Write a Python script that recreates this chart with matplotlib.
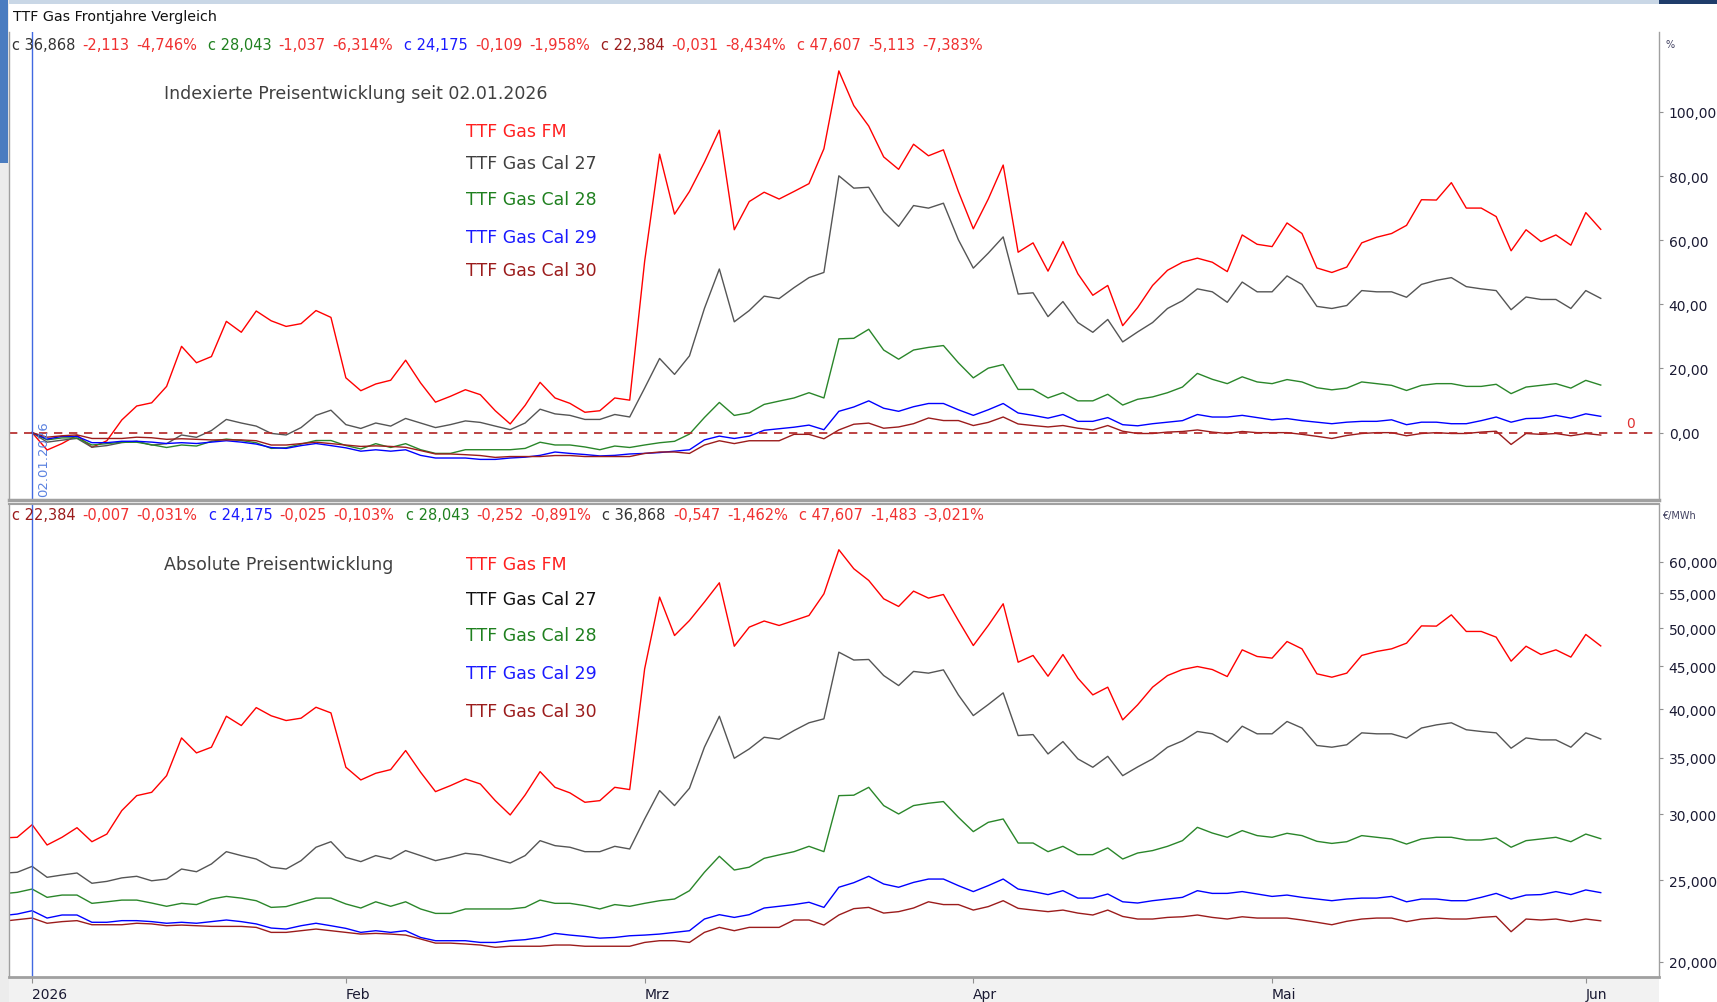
import numpy as np
import pandas as pd
import matplotlib
matplotlib.use("Agg")
import matplotlib.pyplot as plt
from matplotlib.patches import Rectangle
from matplotlib.ticker import FixedLocator, FuncFormatter, NullLocator

# trading days Dec 30 2025 .. Jun 2 2026 (exchange holidays removed)
holidays = ["2026-01-01", "2026-04-03", "2026-04-06"]
base_day = "2026-01-02"
month_names = {1: "2026", 2: "Feb", 3: "Mrz", 4: "Apr", 5: "Mai", 6: "Jun"}

# settlement prices in EUR/MWh
fm = [28.10, 28.15, 29.14, 27.56, 28.15, 28.90, 27.81, 28.40, 30.29, 31.56,
      31.85, 33.34, 36.98, 35.49, 36.05, 39.25, 38.26, 40.19, 39.30, 38.79,
      39.04, 40.23, 39.61, 34.12, 32.95, 33.56, 33.90, 35.72, 33.66, 31.91,
      32.44, 33.04, 32.59, 31.13, 29.93, 31.62, 33.71, 32.29, 31.80, 30.99,
      31.13, 32.29, 32.09, 44.71, 54.44, 48.99, 51.05, 53.70, 56.62, 47.57,
      50.13, 50.98, 50.36, 51.05, 51.76, 54.93, 62.00, 58.85, 56.99, 54.19,
      53.06, 55.34, 54.29, 54.83, 51.05, 47.66, 50.36, 53.45, 45.53, 46.38,
      43.81, 46.50, 43.57, 41.62, 42.51, 38.86, 40.50, 42.51, 43.89, 44.62,
      44.99, 44.62, 43.77, 47.10, 46.25, 46.04, 48.19, 47.23, 44.10, 43.69,
      44.18, 46.38, 46.89, 47.23, 47.97, 50.30, 50.27, 51.85, 49.54, 49.54,
      48.77, 45.66, 47.57, 46.50, 47.10, 46.17, 49.13, 47.61]
cal27 = [25.50, 25.57, 25.99, 25.22, 25.38, 25.52, 24.81, 24.94, 25.18, 25.29,
         24.98, 25.10, 25.80, 25.61, 26.16, 27.06, 26.77, 26.52, 25.93, 25.80,
         26.40, 27.39, 27.81, 26.64, 26.33, 26.77, 26.52, 27.14, 26.77, 26.40,
         26.64, 26.94, 26.82, 26.52, 26.23, 26.77, 27.89, 27.51, 27.39, 27.06,
         27.06, 27.46, 27.26, 29.60, 32.00, 30.71, 32.21, 36.05, 39.25, 34.97,
         35.88, 37.05, 36.85, 37.74, 38.55, 38.97, 46.80, 45.80, 45.87, 43.89,
         42.70, 44.39, 44.18, 44.58, 41.62, 39.32, 40.53, 41.85, 37.22, 37.32,
         35.39, 36.61, 34.91, 34.12, 35.16, 33.34, 34.15, 34.91, 36.05, 36.68,
         37.64, 37.40, 36.55, 38.19, 37.40, 37.40, 38.69, 38.00, 36.22, 36.05,
         36.29, 37.50, 37.40, 37.40, 36.96, 38.00, 38.33, 38.55, 37.82, 37.64,
         37.50, 35.95, 36.98, 36.78, 36.78, 36.05, 37.50, 36.87]
cal28 = [24.10, 24.20, 24.42, 23.87, 24.02, 24.02, 23.48, 23.58, 23.69, 23.69,
         23.50, 23.29, 23.48, 23.40, 23.76, 23.93, 23.82, 23.65, 23.22, 23.27,
         23.55, 23.82, 23.82, 23.44, 23.18, 23.58, 23.29, 23.58, 23.12, 22.84,
         22.84, 23.12, 23.12, 23.12, 23.12, 23.22, 23.69, 23.48, 23.48, 23.33,
         23.12, 23.40, 23.29, 23.48, 23.65, 23.76, 24.31, 25.57, 26.72, 25.73,
         25.93, 26.57, 26.82, 27.06, 27.46, 27.06, 31.56, 31.60, 32.29, 30.71,
         30.01, 30.71, 30.91, 31.05, 29.74, 28.59, 29.33, 29.60, 27.71, 27.71,
         27.06, 27.46, 26.84, 26.84, 27.34, 26.52, 26.96, 27.14, 27.46, 27.89,
         28.93, 28.48, 28.15, 28.67, 28.28, 28.15, 28.46, 28.28, 27.84, 27.68,
         27.81, 28.28, 28.15, 28.02, 27.63, 28.02, 28.15, 28.15, 27.94, 27.94,
         28.10, 27.39, 27.89, 28.02, 28.15, 27.81, 28.40, 28.04]
cal29 = [22.70, 22.80, 23.01, 22.55, 22.74, 22.74, 22.29, 22.29, 22.39, 22.39,
         22.33, 22.23, 22.29, 22.23, 22.33, 22.43, 22.33, 22.19, 21.94, 21.88,
         22.08, 22.23, 22.08, 21.92, 21.68, 21.78, 21.68, 21.78, 21.38, 21.19,
         21.19, 21.19, 21.09, 21.09, 21.19, 21.25, 21.38, 21.62, 21.52, 21.44,
         21.34, 21.38, 21.48, 21.52, 21.58, 21.68, 21.78, 22.49, 22.76, 22.59,
         22.76, 23.18, 23.29, 23.40, 23.55, 23.22, 24.54, 24.85, 25.29, 24.76,
         24.54, 24.87, 25.10, 25.10, 24.65, 24.25, 24.65, 25.10, 24.42, 24.25,
         24.05, 24.31, 23.82, 23.82, 24.09, 23.58, 23.50, 23.65, 23.76, 23.87,
         24.31, 24.13, 24.13, 24.25, 24.09, 23.93, 24.02, 23.87, 23.76, 23.65,
         23.76, 23.82, 23.82, 23.93, 23.58, 23.76, 23.76, 23.65, 23.65, 23.87,
         24.13, 23.76, 24.02, 24.05, 24.25, 24.05, 24.36, 24.18]
cal30 = [22.35, 22.45, 22.55, 22.23, 22.33, 22.39, 22.14, 22.14, 22.14, 22.23,
         22.19, 22.08, 22.12, 22.08, 22.04, 22.04, 22.04, 21.98, 21.68, 21.68,
         21.78, 21.88, 21.78, 21.68, 21.58, 21.62, 21.58, 21.52, 21.29, 21.05,
         21.05, 21.00, 20.94, 20.81, 20.87, 20.87, 20.87, 20.94, 20.94, 20.87,
         20.87, 20.87, 20.87, 21.09, 21.19, 21.19, 21.09, 21.68, 21.98, 21.78,
         21.98, 21.98, 21.98, 22.43, 22.43, 22.12, 22.74, 23.14, 23.22, 22.86,
         22.95, 23.18, 23.58, 23.40, 23.40, 23.05, 23.27, 23.65, 23.16, 23.05,
         22.95, 23.05, 22.86, 22.74, 23.05, 22.65, 22.49, 22.49, 22.59, 22.63,
         22.74, 22.59, 22.49, 22.63, 22.55, 22.55, 22.55, 22.43, 22.29, 22.14,
         22.35, 22.49, 22.55, 22.55, 22.33, 22.49, 22.55, 22.49, 22.49, 22.59,
         22.65, 21.72, 22.49, 22.43, 22.49, 22.33, 22.49, 22.38]

names = ["TTF Gas FM", "TTF Gas Cal 27", "TTF Gas Cal 28", "TTF Gas Cal 29", "TTF Gas Cal 30"]
series = [fm, cal27, cal28, cal29, cal30]
colors = ["#ff0000", "#555555", "#2a862a", "#0000ff", "#9b1c1c"]
label_colors_top = ["#ff2020", "#404040", "#1f801f", "#1a1aff", "#9b1c1c"]
label_colors_bot = ["#ff2020", "#111111", "#1f801f", "#1a1aff", "#9b1c1c"]

hdr_top = [[("c 36,868", "#333333"), ("-2,113", "#f03030"), ("-4,746%", "#f03030")],
           [("c 28,043", "#1f801f"), ("-1,037", "#f03030"), ("-6,314%", "#f03030")],
           [("c 24,175", "#1a1aff"), ("-0,109", "#f03030"), ("-1,958%", "#f03030")],
           [("c 22,384", "#9b1c1c"), ("-0,031", "#f03030"), ("-8,434%", "#f03030")],
           [("c 47,607", "#f03030"), ("-5,113", "#f03030"), ("-7,383%", "#f03030")]]
hdr_bot = [[("c 22,384", "#9b1c1c"), ("-0,007", "#f03030"), ("-0,031%", "#f03030")],
           [("c 24,175", "#1a1aff"), ("-0,025", "#f03030"), ("-0,103%", "#f03030")],
           [("c 28,043", "#1f801f"), ("-0,252", "#f03030"), ("-0,891%", "#f03030")],
           [("c 36,868", "#333333"), ("-0,547", "#f03030"), ("-1,462%", "#f03030")],
           [("c 47,607", "#f03030"), ("-1,483", "#f03030"), ("-3,021%", "#f03030")]]

plt.rcParams["font.family"] = ["DejaVu Sans"]

dates = pd.bdate_range("2025-12-30", "2026-06-02")
dates = dates[~dates.isin(pd.to_datetime(holidays))]
x = np.arange(len(dates))
b = dates.get_loc(pd.Timestamp(base_day))

W, H = 1717, 1003
fig = plt.figure(figsize=(W / 100, H / 100), dpi=100, facecolor="white")
def fx(px): return px / W
def fy(py): return 1 - py / H

# window chrome bits (behind the axes)
def chrome(x0, y0, w, h, c):
    fig.add_artist(Rectangle((x0, y0), w, h, transform=fig.transFigure, color=c, lw=0, zorder=-5))
chrome(0, fy(5), 1, 5 / H, "#c9d7e6")
chrome(fx(1659), fy(5), 58 / W, 5 / H, "#1f3d6b")
chrome(0, 0, fx(1659), fy(978), "#f2f2f2")
chrome(0, 0, fx(9), 1, "#ececec")
chrome(0, fy(164), fx(8), 164 / H, "#4a7cc0")

ax1 = fig.add_axes([fx(9), fy(501), fx(1659) - fx(9), (501 - 33) / H])
ax2 = fig.add_axes([fx(9), fy(978), fx(1659) - fx(9), (978 - 505) / H])

xl = (0.45, 110.9)

# top: indexed development since base day
for s, c in zip(series, colors):
    v = np.array(s)
    pct = (v[b:] / v[b] - 1) * 100
    ax1.plot(x[b:], pct, color=c, lw=1.0)
ax1.axhline(0, color="#b22222", lw=1.2, ls=(0, (5, 4)))
ax1.axvline(b, color="#4169e1", lw=1.0)
ax1.set_xlim(*xl)
ax1.set_ylim(-21, 124.9)
ax1.set_xticks([])
ax1.text(b + 0.8, -19.8, "02.01.2026", rotation=90, color="#5b82e0", fontsize=9.5,
         ha="center", va="bottom")
ax1.text(109.0, 0.8, "0", color="#e03030", fontsize=10, ha="center", va="bottom")

# bottom: absolute prices, log scale
for s, c in zip(series, colors):
    ax2.plot(x, s, color=c, lw=1.0)
ax2.axvline(b, color="#4169e1", lw=1.0)
ax2.set_yscale("log")
ax2.set_xlim(*xl)
ax2.set_ylim(19.18, 70.3)
ax2.yaxis.set_major_locator(FixedLocator([20, 25, 30, 35, 40, 45, 50, 55, 60]))
ax2.yaxis.set_minor_locator(NullLocator())
ax2.yaxis.set_major_formatter(FuncFormatter(lambda v, _: f"{v:.3f}".replace(".", ",")))

ax1.yaxis.set_major_locator(FixedLocator([0, 20, 40, 60, 80, 100]))
ax1.yaxis.set_major_formatter(FuncFormatter(lambda v, _: f"{v:.2f}".replace(".", ",")))

# month ticks at first trading day of each month
tick_pos, tick_lab = [], []
for i in range(b, len(dates)):
    if i == b or dates[i].month != dates[i - 1].month:
        tick_pos.append(i)
        tick_lab.append(month_names[dates[i].month])
ax2.set_xticks(tick_pos)
ax2.set_xticklabels(tick_lab, ha="left")
ax2.tick_params(axis="x", length=4, width=0.8, color="#909090", labelsize=10,
                labelcolor="#1a1a33", pad=3)

for ax in (ax1, ax2):
    ax.set_facecolor("white")
    ax.yaxis.tick_right()
    ax.tick_params(axis="y", length=3, width=0.8, color="#909090", labelsize=10,
                   labelcolor="#1a1a33", pad=4)
    for sp in ax.spines.values():
        sp.set_color("#a0a0a0")
        sp.set_linewidth(1.0)
ax1.spines["top"].set_visible(False)
ax1.spines["bottom"].set_linewidth(2.5)
ax2.spines["top"].set_linewidth(1.5)
ax2.spines["bottom"].set_linewidth(2.0)

# texts
fig.text(fx(13), fy(17.5), "TTF Gas Frontjahre Vergleich", fontsize=10.3, color="#111111", va="center")
fig.text(fx(164), fy(94), "Indexierte Preisentwicklung seit 02.01.2026", fontsize=12.5,
         color="#404040", va="center")
fig.text(fx(164), fy(565), "Absolute Preisentwicklung", fontsize=12.5, color="#404040", va="center")
for n, c, yy in zip(names, label_colors_top, [132.5, 164, 200, 237.6, 270.5]):
    fig.text(fx(466), fy(yy), n, fontsize=12.5, color=c, va="center")
for n, c, yy in zip(names, label_colors_bot, [565, 600, 636, 674.5, 712]):
    fig.text(fx(466), fy(yy), n, fontsize=12.5, color=c, va="center")
fig.text(fx(1665), fy(45), "%", fontsize=7, color="#404060", va="center")
fig.text(fx(1662), fy(516), "€/MWh", fontsize=7, color="#404060", va="center")

renderer = fig.canvas.get_renderer()
def header(ypx, groups):
    xpx = 11.5
    for g in groups:
        for s, c in g:
            t = fig.text(fx(xpx), fy(ypx), s, fontsize=10.5, color=c, va="center", ha="left")
            xpx = t.get_window_extent(renderer).x1 + 7
        xpx += 4
header(45, hdr_top)
header(516, hdr_bot)

fig.savefig("out.png", dpi=100, facecolor=fig.get_facecolor())
